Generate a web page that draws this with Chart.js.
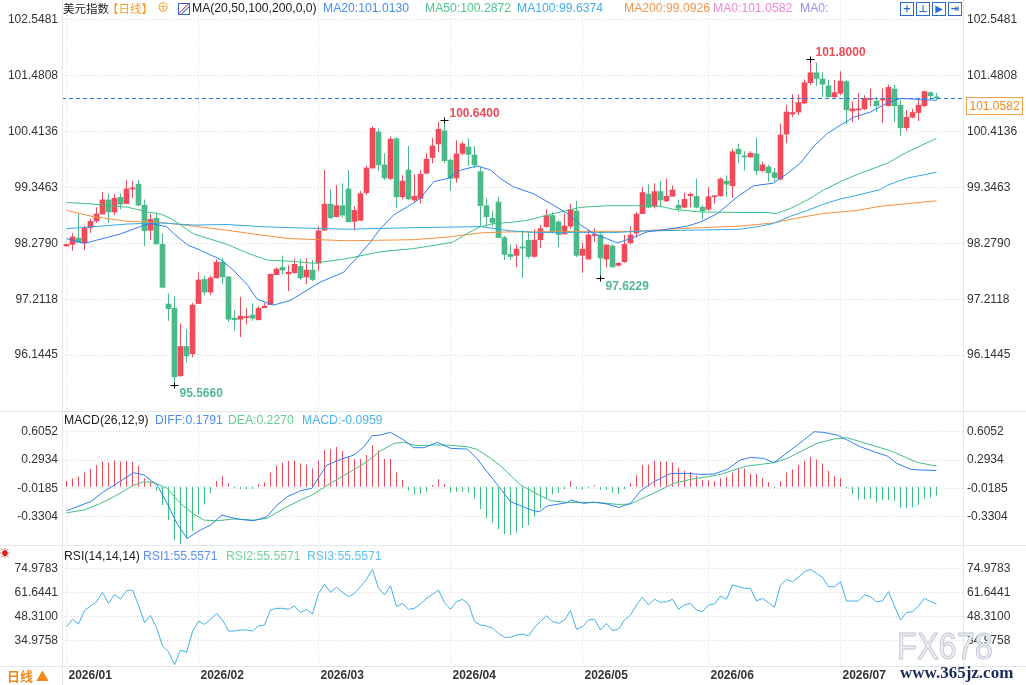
<!DOCTYPE html>
<html>
<head>
<meta charset="utf-8">
<script src="https://cdn.jsdelivr.net/npm/chart.js@4.4.1/dist/chart.umd.min.js"></script>
<style>
body { margin: 0; background: #fff; }
#wrap { position: relative; width: 1026px; height: 685px; overflow: hidden; font-family: "Liberation Sans", Arial, "Noto Sans CJK SC", sans-serif; }
#wrap canvas { position: absolute; left: 0; }
.t { position: absolute; white-space: nowrap; font-size: 12.2px; line-height: 14px; }
.cn { font-family: "Noto Sans CJK SC", sans-serif; font-size: 11.5px; }
.hl { position: absolute; background: #e3e6eb; }
.ico { position: absolute; top: 2px; width: 12px; height: 12px; border: 1px solid #2b6cd4; color: #2b6cd4; font: bold 10px/12px "DejaVu Sans", sans-serif; text-align: center; }
</style>
</head>
<body>
<div id="wrap">
  <canvas id="cMain" width="1026" height="411" style="top:0"></canvas>
  <canvas id="cMacd" width="1026" height="134" style="top:411px"></canvas>
  <canvas id="cRsi" width="1026" height="140" style="top:545px"></canvas>

  <div class="hl" style="left:0;top:411px;width:1026px;height:1px"></div>
  <div class="hl" style="left:0;top:545px;width:1026px;height:1px"></div>
  <div class="hl" style="left:0;top:666px;width:1026px;height:1px"></div>
  <div class="hl" style="left:62px;top:0;width:1px;height:685px"></div>
  <div class="hl" style="left:963px;top:0;width:1px;height:685px"></div>

  <div class="t cn" style="left:63px;top:1px;color:#222">美元指数</div>
  <div class="t cn" style="left:107px;top:1px;color:#f39a1e">【日线】</div>
  <div class="t" style="left:157px;top:1px;color:#f39a1e">⊕</div>
  <div style="position:absolute;left:178px;top:3px;width:10px;height:10px;border:1px solid #3b5fc8;background:linear-gradient(135deg,#fff 40%,#e0505a 45%,#fff 55%,#3b7de0 65%,#fff 70%)"></div>
  <div class="t" style="left:192px;top:1px;color:#222">MA(20,50,100,200,0,0)</div>
  <div class="t" style="left:323px;top:1px;color:#4b8fe8">MA20:101.0130</div>
  <div class="t" style="left:425px;top:1px;color:#50c88e">MA50:100.2872</div>
  <div class="t" style="left:517px;top:1px;color:#44aee8">MA100:99.6374</div>
  <div class="t" style="left:624px;top:1px;color:#f5954d">MA200:99.0926</div>
  <div class="t" style="left:713px;top:1px;color:#ef8ad6">MA0:101.0582</div>
  <div class="t" style="left:800px;top:1px;color:#a08ef0">MA0:</div>
  <div class="ico" style="left:900px">+</div>
  <div class="ico" style="left:916px">⊥</div>
  <div class="ico" style="left:932px">▶</div>
  <div class="ico" style="left:948px">⇥</div>

  <div class="t" style="left:64px;top:413px;color:#222">MACD(26,12,9)</div>
  <div class="t" style="left:155px;top:413px;color:#4b8fe8">DIFF:0.1791</div>
  <div class="t" style="left:228px;top:413px;color:#62cc95">DEA:0.2270</div>
  <div class="t" style="left:302px;top:413px;color:#4db5ea">MACD:-0.0959</div>

  <div class="t" style="left:0;top:547px;color:#e02020;font-size:10px">☀</div>
  <div class="t" style="left:64px;top:549px;color:#222">RSI(14,14,14)</div>
  <div class="t" style="left:143px;top:549px;color:#5b8ff0">RSI1:55.5571</div>
  <div class="t" style="left:226px;top:549px;color:#6fd39a">RSI2:55.5571</div>
  <div class="t" style="left:307px;top:549px;color:#5cc0ee">RSI3:55.5571</div>

  <div class="t cn" style="left:7px;top:669px;color:#f28a1a;font-size:13px;font-weight:bold">日线 ▲</div>

  <div class="t" style="left:897px;top:627px;line-height:40px;font-size:37px;color:#eceef3;-webkit-text-stroke:1px #c3c8d4;transform:scaleX(0.88);transform-origin:left top">FX678</div>
  <div class="t" style="left:900px;top:663px;line-height:18px;font:bold 17px 'Liberation Serif',serif;color:#1c2b5e">www.365jz.com</div>
</div>

<script>
// daily candles, 2026/01/02 .. 2026/07
const opens = [98.23,98.26,98.38,98.29,98.58,98.71,98.84,99.11,98.88,99.16,99.04,99.32,99.41,99.01,98.53,98.76,98.26,97.12,97.04,95.75,
  96.31,96.17,97.13,97.59,97.35,97.62,97.92,97.64,96.85,96.83,96.86,96.91,96.82,97.05,97.11,97.68,97.82,97.70,97.72,97.84,
  97.64,97.77,97.90,98.53,99.03,98.79,99.00,99.32,98.70,98.72,99.25,99.72,100.41,99.78,99.52,100.28,99.17,99.68,99.11,99.14,
  99.62,99.92,100.18,100.43,99.87,99.53,100.00,100.12,99.97,99.65,99.00,98.76,99.07,98.39,98.07,98.05,98.21,98.34,98.03,98.35,
  98.60,98.81,98.69,98.46,98.61,98.90,98.05,97.98,98.43,98.44,97.98,98.23,97.86,97.93,98.29,98.48,98.85,99.22,98.99,99.27,
  99.09,99.18,99.01,98.97,99.19,99.18,98.97,98.93,99.17,99.19,99.47,99.38,100.08,99.95,99.93,99.99,99.67,99.74,99.63,99.51,
  100.37,100.75,100.79,100.96,101.35,101.54,101.42,101.29,101.08,101.15,101.37,100.81,100.83,100.85,101.03,101.00,101.02,100.91,101.23,100.92,
  100.49,100.69,100.78,100.91,101.16,101.08];
const highs = [98.27,98.48,98.84,98.61,98.75,98.97,99.26,99.23,99.23,99.24,99.49,99.47,99.49,99.12,98.85,98.86,98.47,97.32,97.27,96.75,
  96.64,97.14,97.73,97.66,97.66,97.97,98.01,97.65,97.00,97.26,97.05,97.13,97.08,97.14,97.70,97.82,98.05,97.86,97.99,97.99,
  97.99,97.96,98.60,99.68,99.31,99.39,99.43,99.68,98.99,99.28,99.76,100.52,100.47,100.00,100.32,100.31,99.58,100.14,99.60,99.68,
  100.00,100.29,100.60,100.64,99.90,100.25,100.22,100.29,100.14,99.74,99.14,98.91,99.17,98.42,98.26,98.26,98.53,98.51,98.55,98.63,
  98.93,98.88,98.72,98.85,99.04,99.09,98.29,98.55,98.57,98.50,98.26,98.26,97.92,98.44,98.60,98.88,99.36,99.41,99.43,99.47,
  99.52,99.39,99.12,99.25,99.25,99.52,99.01,99.35,99.20,99.54,99.58,100.09,100.19,100.04,100.04,100.30,99.84,99.78,99.72,100.57,
  100.92,101.13,101.13,101.41,101.80,101.73,101.55,101.40,101.40,101.57,101.40,100.99,101.15,101.11,101.24,101.07,101.24,101.31,101.31,101.03,
  100.83,100.85,101.02,101.20,101.18,101.16];
const lows = [98.22,98.14,98.29,98.15,98.48,98.67,98.83,98.67,98.82,98.93,99.03,99.14,98.99,98.23,98.35,98.26,97.42,96.80,95.566,95.73,
  96.01,96.11,97.12,97.29,97.29,97.61,97.51,96.78,96.61,96.49,96.73,96.80,96.81,97.05,97.10,97.68,97.69,97.37,97.70,97.58,
  97.50,97.56,97.75,98.53,98.74,98.78,98.78,98.69,98.53,98.71,99.21,99.71,99.66,99.49,99.49,98.96,99.12,99.11,99.07,99.04,
  99.60,99.81,100.02,99.81,99.28,99.44,99.97,99.76,99.72,98.60,98.60,98.60,98.38,97.96,97.96,97.83,97.62,97.99,98.01,98.19,
  98.58,98.47,98.21,98.45,98.56,98.02,97.72,97.97,98.31,97.6229,97.82,97.82,97.84,97.91,98.26,98.39,98.84,98.95,98.95,98.98,
  99.07,99.18,98.88,98.95,98.97,98.95,98.74,98.91,99.04,99.17,99.17,99.15,99.82,99.67,99.92,99.58,99.64,99.46,99.46,99.49,
  100.20,100.69,100.73,100.94,101.31,101.29,101.07,101.07,101.04,101.11,100.56,100.60,100.64,100.83,100.91,100.79,100.58,100.90,100.60,100.33,
  100.43,100.67,100.62,100.89,101.02,101.02];
const closes = [98.26,98.40,98.30,98.58,98.70,98.84,99.11,98.88,99.14,99.03,99.32,99.33,99.01,98.52,98.74,98.27,97.44,97.03,95.73,96.31,
  96.13,97.10,97.58,97.35,97.62,97.92,97.64,96.83,96.82,96.89,96.87,96.85,97.04,97.08,97.69,97.79,97.77,97.73,97.88,97.62,
  97.77,97.59,98.52,99.03,98.77,99.00,98.82,98.69,98.91,99.23,99.72,100.48,99.78,99.53,100.27,99.17,99.47,99.13,99.18,99.60,
  99.89,100.14,100.46,99.86,99.52,99.99,100.18,99.98,99.78,99.00,98.79,98.68,98.39,98.07,98.03,98.17,98.19,98.03,98.34,98.56,
  98.81,98.50,98.45,98.61,98.93,98.05,98.17,98.44,98.45,98.00,98.25,97.83,97.90,98.26,98.44,98.84,99.25,98.97,99.27,99.11,
  99.18,99.30,98.95,99.12,99.22,98.97,98.90,99.17,99.19,99.51,99.41,100.03,99.99,99.93,100.00,99.67,99.78,99.63,99.54,100.35,
  100.79,100.78,100.97,101.35,101.54,101.43,101.32,101.08,101.16,101.38,100.83,100.85,100.85,101.05,101.05,100.91,101.04,101.26,100.91,100.49,
  100.69,100.78,100.92,101.18,101.10,101.0582];

// moving averages as [candle index, value]
const ma20 = [[0,98.37],[3,98.28],[5,98.34],[9,98.46],[12.3,98.60],[14,98.66],[16.7,98.60],[17.8,98.47],[20.2,98.25],[22.3,98.15],
  [25.7,97.97],[27.8,97.77],[30.2,97.48],[31.8,97.21],[34.5,97.10],[37.3,97.19],[42.3,97.54],[46.2,97.73],[48.5,98.02],[50.7,98.31],
  [52.3,98.56],[54.5,98.82],[56.8,98.98],[59,99.14],[61.2,99.46],[63.5,99.52],[65.7,99.68],[68.5,99.76],[70.7,99.68],[72.3,99.52],
  [74.5,99.36],[77.8,99.23],[80.7,99.04],[83.5,98.85],[85.7,98.63],[87.8,98.47],[91.8,98.29],[94,98.37],[96.8,98.50],[100.2,98.55],
  [103.5,98.61],[105.7,98.69],[108.5,98.85],[111.8,99.17],[114.5,99.38],[117.8,99.43],[120.2,99.62],[122.3,99.81],[124.5,100.13],[126.8,100.38],
  [129,100.54],[131.2,100.69],[134,100.79],[136.8,100.96],[139,101.05],[142.3,101.03],[145,101.013]];
const ma50 = [[0,99.06],[3.5,99.04],[10.2,98.97],[13.5,98.88],[15.7,98.84],[17.3,98.76],[19,98.63],[21.2,98.46],[24,98.36],[26.8,98.26],
  [29,98.15],[31.2,98.05],[33.5,97.96],[37.3,97.94],[41.2,97.90],[46.8,97.99],[52.3,98.12],[57.8,98.18],[62.3,98.26],[64.5,98.31],
  [66.8,98.47],[69,98.60],[71.2,98.66],[74,98.68],[76.8,98.72],[81.2,98.85],[85.7,98.97],[90.2,99.00],[94.5,99.00],[99,98.99],
  [101.2,98.93],[105.7,98.88],[112.3,98.87],[116.7,98.87],[118.3,98.85],[120.7,98.95],[123.5,99.11],[126.2,99.30],[129,99.46],[132.3,99.62],
  [136.8,99.81],[140.2,100.03],[145,100.287]];
const ma100 = [[0,98.56],[4.5,98.60],[10.2,98.65],[15.7,98.67],[21.2,98.63],[26.8,98.64],[32.3,98.60],[37.3,98.58],[46.8,98.55],[57.8,98.58],
  [69,98.60],[74,98.52],[77.8,98.49],[86.2,98.49],[91.8,98.49],[97.3,98.52],[103.5,98.53],[112.3,98.55],[115.7,98.61],[117.8,98.66],
  [120.7,98.80],[123.5,98.91],[126.2,99.03],[129,99.13],[131.8,99.20],[135.7,99.31],[136.8,99.39],[140.2,99.53],[145,99.637]];
const ma200 = [[0,98.91],[4.5,98.79],[10.2,98.70],[15.7,98.68],[21.2,98.61],[26.8,98.53],[32.3,98.44],[37.3,98.37],[46.8,98.33],[57.8,98.35],
  [63.5,98.40],[69,98.48],[74,98.50],[77.8,98.50],[86.2,98.51],[94.5,98.51],[100.2,98.55],[105.7,98.58],[112.3,98.61],[117.8,98.67],
  [120.7,98.74],[123.5,98.80],[126.2,98.85],[129,98.88],[131.8,98.91],[135.7,98.99],[145,99.093]];

// MACD(26,12,9)
const macdHist = [0.062,0.092,0.114,0.158,0.195,0.239,0.279,0.268,0.290,0.279,0.287,0.276,0.228,0.092,0.059,-0.044,-0.202,-0.368,-0.588,-0.632,
  -0.573,-0.489,-0.305,-0.195,-0.074,0.062,0.118,0.037,-0.018,-0.026,-0.026,-0.022,0.026,0.048,0.158,0.235,0.268,0.283,0.290,0.257,
  0.246,0.202,0.287,0.401,0.412,0.437,0.393,0.331,0.305,0.305,0.349,0.456,0.401,0.305,0.305,0.158,0.077,-0.044,-0.085,-0.081,
  -0.055,0.018,0.081,0.029,-0.066,-0.055,-0.055,-0.066,-0.129,-0.246,-0.349,-0.397,-0.470,-0.522,-0.533,-0.507,-0.452,-0.423,-0.331,-0.239,
  -0.129,-0.085,-0.066,-0.029,0.062,-0.022,-0.029,-0.015,0.015,-0.037,-0.037,-0.066,-0.081,-0.029,0.037,0.129,0.239,0.246,0.287,0.279,
  0.276,0.268,0.213,0.176,0.165,0.121,0.074,0.070,0.059,0.092,0.110,0.158,0.202,0.202,0.147,0.140,0.092,0.048,-0.018,0.062,
  0.158,0.191,0.239,0.287,0.327,0.301,0.257,0.176,0.118,0.092,-0.018,-0.081,-0.140,-0.140,-0.129,-0.173,-0.147,-0.147,-0.158,-0.232,
  -0.232,-0.228,-0.202,-0.132,-0.121,-0.0959];
const macdDiff = [[0,-0.265],[4,-0.165],[6.2,-0.055],[8.4,0.037],[11.2,0.154],[12.9,0.129],[15.1,0.018],[16.8,-0.184],[18.4,-0.404],[20.1,-0.570],
  [22.3,-0.478],[24,-0.423],[25.9,-0.312],[27.3,-0.338],[29,-0.360],[31.2,-0.375],[33.4,-0.331],[35.1,-0.202],[36.8,-0.110],[39,-0.044],
  [40.9,-0.018],[42.3,0.129],[43.4,0.239],[45.7,0.301],[47.9,0.349],[49.6,0.441],[50.9,0.562],[52.3,0.570],[54,0.599],[56.2,0.515],
  [57.9,0.430],[59.6,0.430],[61.8,0.489],[64,0.423],[66.8,0.415],[68.4,0.312],[70.1,0.165],[72.2,-0.010],[74,-0.165],[77.8,-0.265],
  [78.8,-0.276],[80.1,-0.213],[83.4,-0.176],[84,-0.147],[86.2,-0.184],[87.9,-0.169],[90.1,-0.191],[92,-0.228],[94,-0.184],[95.7,-0.044],
  [97.9,0.055],[100.7,0.147],[103.4,0.147],[105.7,0.136],[107.9,0.140],[110.1,0.191],[112.3,0.294],[114,0.323],[116.2,0.312],[117.9,0.265],
  [119.6,0.349],[121.8,0.459],[124.6,0.606],[126.2,0.599],[128.4,0.570],[130.1,0.515],[132.3,0.441],[134.6,0.386],[136.8,0.338],[138.4,0.257],
  [140.7,0.191],[142.3,0.184],[145,0.1791]];
const macdDea = [[0,-0.287],[2.9,-0.257],[5.7,-0.184],[8.4,-0.092],[11.2,0.018],[12.9,0.055],[14.6,0.044],[16.8,-0.018],[19,-0.184],[21.2,-0.301],
  [22.9,-0.368],[25.1,-0.375],[27.9,-0.356],[31.2,-0.368],[33.4,-0.349],[36.2,-0.239],[39,-0.147],[40.9,-0.092],[44,0.037],[47.3,0.165],
  [50.1,0.276],[52.3,0.393],[54.6,0.478],[56.2,0.489],[58.4,0.452],[61.2,0.459],[63.4,0.459],[66.8,0.441],[68.4,0.412],[70.7,0.312],
  [72.3,0.233],[75.7,0.018],[78.8,-0.092],[80.7,-0.154],[83.4,-0.173],[86.2,-0.173],[89,-0.176],[91.8,-0.195],[94,-0.191],[96.2,-0.121],
  [98.4,-0.055],[101.2,0.037],[104,0.081],[106.8,0.110],[109,0.136],[111.2,0.184],[113.4,0.228],[115.7,0.246],[117.9,0.265],[120.1,0.312],
  [122.3,0.386],[125.1,0.478],[127.9,0.526],[130.1,0.540],[132.3,0.496],[135.1,0.441],[137.3,0.397],[139.6,0.331],[141.8,0.268],[145,0.227]];

// RSI(14), RSI1 = RSI2 = RSI3
const rsi = [42.94,47.02,44.42,51.83,54.42,56.65,62.02,55.9,60.9,58.3,62.94,63.31,54.98,45.16,49.24,42.57,32.2,29.05,21.8,29.98,
  28.68,40.16,46.09,44.24,47.02,50.35,46.65,40.53,40.53,41.09,41.09,40.53,43.31,43.87,52.2,53.13,53.13,52.57,54.42,50.72,
  52.57,49.98,61.46,66.46,62.02,64.79,62.02,59.61,61.46,65.16,69.24,74.79,64.24,60.53,65.72,54.05,55.9,52.57,53.13,55.53,
  58.68,60.9,63.31,56.27,52.57,56.83,58.13,55.53,45.72,43.87,43.31,42.02,39.24,37.02,37.02,38.31,38.87,37.76,42.57,45.72,
  49.05,45.72,44.79,46.65,51.83,41.46,42.94,46.65,47.02,41.09,44.79,40.72,41.65,46.65,49.42,54.98,59.24,54.98,58.13,56.46,
  56.83,58.13,52.57,54.98,55.9,52.2,51.27,54.98,55.53,59.98,58.13,66.09,65.16,64.24,64.24,57.2,58.68,56.27,53.68,66.09,
  69.24,67.94,70.35,73.5,74.79,72.57,70.35,65.16,65.16,67.94,57.2,57.2,57.2,60.53,59.61,56.83,57.2,62.39,54.42,46.65,
  50.72,51.27,54.42,58.68,56.83,55.5571];

const priceTicks = [102.5481, 101.4808, 100.4136, 99.3463, 98.2790, 97.2118, 96.1445];
const macdTicks = [0.6052, 0.2934, -0.0185, -0.3304];
const rsiTicks = [74.9783, 61.6441, 48.3100, 34.9758];
const monthIdx = [0, 22, 42, 64, 86, 107, 129];
const monthLabels = ['2026/01', '2026/02', '2026/03', '2026/04', '2026/05', '2026/06', '2026/07'];
// high / low markers: [index, value, kind]
const marks = [[124, 101.8000, 'hi'], [63, 100.6400, 'hi'], [89, 97.6229, 'lo'], [18, 95.5660, 'lo']];

const RED = '#ef4b5a', GREEN = '#4cb98a';
const FONT = '"Liberation Sans", Arial, "Noto Sans CJK SC", sans-serif';
Chart.defaults.font.family = FONT;
Chart.defaults.animation = false;

const xy = pts => pts.map(p => ({x: p[0], y: p[1]}));
const upColor = i => closes[i] >= opens[i] ? RED : GREEN;

function xScale(labels) {
  return {
    type: 'linear', min: -0.75, max: 149.4167, offset: false,
    afterBuildTicks: s => { s.ticks = monthIdx.map(v => ({value: v})); },
    afterFit: s => { s.height = labels ? 20 : 0; s.paddingLeft = 0; s.paddingRight = 0; },
    grid: {color: '#dcdcdc', drawTicks: false, offset: false},
    border: {display: false, dash: [1, 2]},
    ticks: {display: labels, autoSkip: false, maxRotation: 0, align: 'start', labelOffset: 2, padding: 3,
      color: '#333', font: {size: 12, weight: 'bold'}, callback: (v, i) => monthLabels[i]}
  };
}

function yScales(min, max, ticks) {
  const base = {
    type: 'linear', min, max,
    afterBuildTicks: s => { s.ticks = ticks.map(v => ({value: v})); },
    border: {display: false, dash: [1, 2]},
    ticks: {color: '#333', font: {size: 12}, padding: 4, callback: v => v.toFixed(4)}
  };
  return {
    yl: {...base, position: 'left', grid: {color: '#dcdcdc', drawTicks: false},
      afterFit: s => { s.width = 62; s.paddingTop = 0; s.paddingBottom = 0; }},
    yr: {...base, position: 'right', grid: {display: false, drawTicks: false},
      afterFit: s => { s.width = 63; s.paddingTop = 0; s.paddingBottom = 0; }}
  };
}

const lineSet = (data, color) => ({
  type: 'line', data: xy(data), yAxisID: 'yl', borderColor: color, borderWidth: 1,
  pointRadius: 0, tension: 0, order: 0
});

const baseOptions = {
  responsive: false, maintainAspectRatio: false, events: [],
  layout: {padding: 0},
  plugins: {legend: {display: false}, tooltip: {enabled: false}}
};

// current price line, high/low marks, price tag
const mainOverlay = {
  id: 'mainOverlay',
  afterDatasetsDraw(chart) {
    const {ctx, chartArea, scales: {x, yl}} = chart;
    const last = closes[closes.length - 1];
    const yp = Math.round(yl.getPixelForValue(last)) + 0.5;
    ctx.save();
    ctx.lineWidth = 1;
    ctx.strokeStyle = '#2f7be6';
    ctx.setLineDash([4, 3]);
    ctx.beginPath(); ctx.moveTo(chartArea.left, yp); ctx.lineTo(chartArea.right, yp); ctx.stroke();
    ctx.setLineDash([]);

    ctx.font = 'bold 12px ' + FONT;
    ctx.textAlign = 'left';
    ctx.textBaseline = 'middle';
    marks.forEach(([i, v, kind]) => {
      const px = Math.round(x.getPixelForValue(i)) + 0.5;
      const py = Math.round(yl.getPixelForValue(v)) + 0.5;
      ctx.strokeStyle = '#000';
      ctx.beginPath();
      ctx.moveTo(px - 4, py); ctx.lineTo(px + 4, py);
      ctx.moveTo(px, py - 3); ctx.lineTo(px, py + 3);
      ctx.stroke();
      ctx.fillStyle = kind === 'hi' ? '#ee4b5a' : '#52b990';
      ctx.fillText(v.toFixed(4), px + 5, kind === 'hi' ? py - 7 : py + 8);
    });

    const bx = chartArea.right + 3.5, by = yp - 1;
    ctx.fillStyle = '#fff';
    ctx.fillRect(bx, by, 56, 17);
    ctx.strokeStyle = '#f5a04a';
    ctx.strokeRect(bx, by, 56, 17);
    ctx.fillStyle = '#f08a24';
    ctx.font = '12px ' + FONT;
    ctx.fillText(last.toFixed(4), bx + 3, by + 9);
    ctx.restore();
  }
};

new Chart(document.getElementById('cMain'), {
  type: 'bar',
  data: {
    datasets: [
      lineSet(ma20, '#2e7ff0'),
      lineSet(ma50, '#3fc083'),
      lineSet(ma100, '#33a9e6'),
      lineSet(ma200, '#f5913e'),
      {
        type: 'bar', yAxisID: 'yl', order: 2, grouped: false,
        data: opens.map((o, i) => ({x: i, y: [o, closes[i]]})),
        backgroundColor: c => upColor(c.dataIndex),
        categoryPercentage: 1, barPercentage: 1, maxBarThickness: 5, minBarLength: 1
      },
      {
        type: 'bar', yAxisID: 'yl', order: 3, grouped: false,
        data: highs.map((h, i) => ({x: i, y: [lows[i], h]})),
        backgroundColor: c => upColor(c.dataIndex),
        categoryPercentage: 1, barPercentage: 0.5, maxBarThickness: 1, minBarLength: 1
      }
    ]
  },
  options: {...baseOptions, scales: {x: xScale(false), ...yScales(95.0772, 102.93, priceTicks)}},
  plugins: [mainOverlay]
});

new Chart(document.getElementById('cMacd'), {
  type: 'bar',
  data: {
    datasets: [
      lineSet(macdDiff, '#2e7ff0'),
      lineSet(macdDea, '#3fc083'),
      {
        type: 'bar', yAxisID: 'yl', order: 2, grouped: false,
        data: macdHist.map((v, i) => ({x: i, y: v})),
        backgroundColor: c => macdHist[c.dataIndex] >= 0 ? RED : '#3fc083',
        categoryPercentage: 1, barPercentage: 0.5, maxBarThickness: 1
      }
    ]
  },
  options: {...baseOptions, scales: {x: xScale(false), ...yScales(-0.6423, 0.8345, macdTicks)}}
});

new Chart(document.getElementById('cRsi'), {
  type: 'line',
  data: {
    datasets: [{...lineSet(rsi.map((v, i) => [i, v]), '#3eb1e6')}]
  },
  options: {...baseOptions, scales: {x: xScale(true), ...yScales(21.6416, 88.31, rsiTicks)}}
});
</script>
</body>
</html>
